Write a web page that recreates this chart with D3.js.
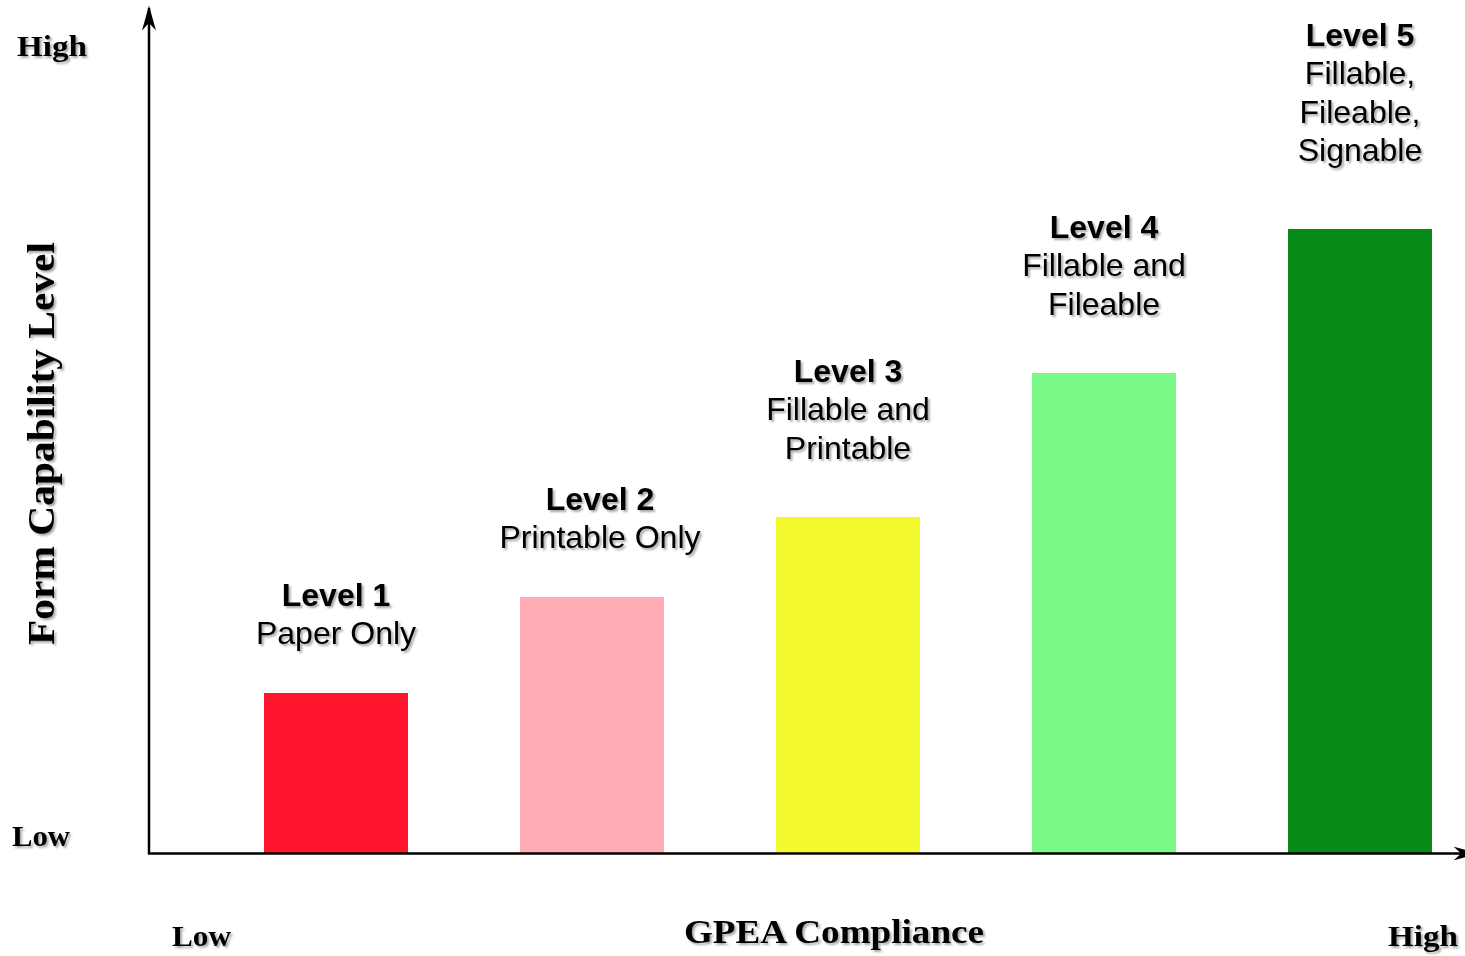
<!DOCTYPE html>
<html>
<head>
<meta charset="utf-8">
<script src="https://cdn.jsdelivr.net/npm/d3@7/dist/d3.min.js"></script>
<style>
  html, body { margin: 0; padding: 0; background: #fff; }
  svg { display: block; }
</style>
</head>
<body>
<svg id="chart" width="1465" height="956"></svg>
<script>
// ---- data ----
const categories = ["Level 1", "Level 2", "Level 3", "Level 4", "Level 5"];
const values = [1.0, 1.6, 2.1, 3.0, 3.9];
const descriptions = [
  ["Paper Only"],
  ["Printable Only"],
  ["Fillable and", "Printable"],
  ["Fillable and", "Fileable"],
  ["Fillable,", "Fileable,", "Signable"]
];
const colors = ["#ff142b", "#ffadb6", "#f3f92f", "#7bf987", "#078a17"];
const yTickLabels = ["Low", "High"];
const xTickLabels = ["Low", "High"];
const xTitle = "GPEA Compliance";
const yTitle = "Form Capability Level";

// ---- layout ----
const svg = d3.select("#chart");
const axisX0 = 149, axisY0 = 853;

const x = d3.scaleBand().domain(categories).range([208, 1488])
  .paddingInner(0.4375).paddingOuter(0.21875);
const y = d3.scaleLinear().domain([0, 5]).range([axisY0, 53]);

const defs = svg.append("defs");
const f = defs.append("filter").attr("id", "shadow")
  .attr("x", "-10%").attr("y", "-20%").attr("width", "130%").attr("height", "150%");
f.append("feDropShadow").attr("dx", 2).attr("dy", 2).attr("stdDeviation", 1.2)
  .attr("flood-color", "#000").attr("flood-opacity", 0.35);

defs.append("marker").attr("id", "arrow")
  .attr("viewBox", "0 0 10 10").attr("refX", 9).attr("refY", 5)
  .attr("markerWidth", 10).attr("markerHeight", 10).attr("markerUnits", "strokeWidth")
  .attr("orient", "auto")
  .append("path").attr("d", "M0,2.2 L10,5 L0,7.8 L3,5 Z").attr("fill", "#000");

// bars
svg.append("g").selectAll("rect").data(categories).join("rect")
  .attr("x", d => x(d))
  .attr("y", (d, i) => y(values[i]))
  .attr("width", x.bandwidth())
  .attr("height", (d, i) => y(0) - y(values[i]))
  .attr("fill", (d, i) => colors[i]);

// axes
svg.append("line").attr("x1", axisX0).attr("y1", axisY0 + 1).attr("x2", axisX0).attr("y2", 8)
  .attr("stroke", "#000").attr("stroke-width", 2.5).attr("marker-end", "url(#arrow)");
svg.append("line").attr("x1", axisX0 - 1).attr("y1", axisY0 + 0.5).attr("x2", 1476).attr("y2", axisY0 + 0.5)
  .attr("stroke", "#000").attr("stroke-width", 2.5).attr("marker-end", "url(#arrow)");

// bar labels
const lineH = 38.5;
const labelDx = [0, 8, 0, 0, 0];
const lg = svg.append("g").attr("filter", "url(#shadow)")
  .style("font-family", "'Liberation Sans', Arial, sans-serif").style("font-size", "32px")
  .attr("fill", "#000").attr("text-anchor", "middle");
categories.forEach((c, i) => {
  const lines = [c].concat(descriptions[i]);
  const cx = x(c) + x.bandwidth() / 2 + labelDx[i];
  const firstY = y(values[i]) - (2.5 + 48 * lines.length);
  const t = lg.append("text").attr("x", cx).attr("y", firstY).attr("dominant-baseline", "central");
  lines.forEach((ln, j) => {
    t.append("tspan").attr("x", cx).attr("y", firstY + j * lineH)
      .style("font-weight", j === 0 ? "bold" : "normal").text(ln);
  });
});

// axis end labels and titles
const tg = svg.append("g").attr("filter", "url(#shadow)")
  .style("font-family", "'Liberation Serif', 'Times New Roman', serif").style("font-weight", "bold")
  .attr("fill", "#000");
tg.append("text").attr("x", 17).attr("y", 56).style("font-size", "30px")
  .attr("textLength", 70).attr("lengthAdjust", "spacingAndGlyphs").text(yTickLabels[1]);
tg.append("text").attr("x", 12).attr("y", 846).style("font-size", "30px")
  .attr("textLength", 58).attr("lengthAdjust", "spacingAndGlyphs").text(yTickLabels[0]);
tg.append("text").attr("x", 172).attr("y", 946).style("font-size", "30px")
  .attr("textLength", 59).attr("lengthAdjust", "spacingAndGlyphs").text(xTickLabels[0]);
tg.append("text").attr("x", 1388).attr("y", 946).style("font-size", "30px")
  .attr("textLength", 70).attr("lengthAdjust", "spacingAndGlyphs").text(xTickLabels[1]);
tg.append("text").attr("x", 684).attr("y", 943).style("font-size", "33px")
  .attr("textLength", 300).attr("lengthAdjust", "spacingAndGlyphs").text(xTitle);
tg.append("text").attr("transform", "translate(54,645) rotate(-90)").style("font-size", "37px")
  .attr("textLength", 403).attr("lengthAdjust", "spacingAndGlyphs").text(yTitle);
</script>
</body>
</html>
